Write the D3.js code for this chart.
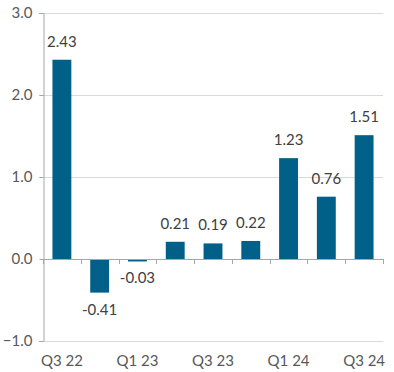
<!DOCTYPE html>
<html>
<head>
<meta charset="utf-8">
<script src="https://cdn.jsdelivr.net/npm/d3@7"></script>
<style>
  body { margin: 0; background: #fff; }
  svg text { font-family: Lato, "Open Sans", sans-serif; }
</style>
</head>
<body>
<script>
var quarters = ['Q3 22', 'Q4 22', 'Q1 23', 'Q2 23', 'Q3 23', 'Q4 23', 'Q1 24', 'Q2 24', 'Q3 24']
var values = [2.43, -0.41, -0.03, 0.21, 0.19, 0.22, 1.23, 0.76, 1.51]
var shownLabels = ['Q3 22', 'Q1 23', 'Q3 23', 'Q1 24', 'Q3 24']
var yTicks = [-1, 0, 1, 2, 3]

var width = 394, height = 372
var margin = { top: 13, right: 11, bottom: 31, left: 43 }

var svg = d3.select('body').append('svg')
    .attr('width', width)
    .attr('height', height)

var x = d3.scaleBand()
    .domain(quarters)
    .range([margin.left, width - margin.right])
    .paddingInner(0.5)
    .paddingOuter(0.25)

var y = d3.scaleLinear()
    .domain([-1, 3])
    .range([height - margin.bottom, margin.top])

// gridlines (not at zero)
svg.append('g')
    .selectAll('line')
    .data(yTicks.filter(function (d) { return d !== 0 }))
    .enter().append('line')
    .attr('x1', margin.left - 4)
    .attr('x2', width - margin.right)
    .attr('y1', function (d) { return Math.round(y(d)) + 0.5 })
    .attr('y2', function (d) { return Math.round(y(d)) + 0.5 })
    .attr('stroke', '#d9d9d9')

// y axis
var yAxis = svg.append('g')
    .attr('transform', 'translate(' + (margin.left + 0.5) + ',0)')
    .call(d3.axisLeft(y).tickValues(yTicks).tickSize(4).tickFormat(d3.format('.1f')))
yAxis.select('.domain').attr('stroke', '#a6a6a6')
yAxis.selectAll('.tick line').attr('stroke', '#a6a6a6')
yAxis.selectAll('.tick text')
    .attr('x', -11)
    .attr('fill', '#595959')
    .style('font-size', '15px')

// bars
svg.append('g')
    .selectAll('rect')
    .data(values)
    .enter().append('rect')
    .attr('x', function (d, i) { return x(quarters[i]) })
    .attr('width', x.bandwidth())
    .attr('y', function (d) { return y(Math.max(0, d)) })
    .attr('height', function (d) { return Math.abs(y(d) - y(0)) })
    .attr('fill', '#006087')

// zero axis with category ticks
var step = x.step()
var boundaries = d3.range(quarters.length + 1).map(function (i) { return margin.left + i * step })
svg.append('line')
    .attr('x1', margin.left)
    .attr('x2', width - margin.right)
    .attr('y1', Math.round(y(0)) + 0.5)
    .attr('y2', Math.round(y(0)) + 0.5)
    .attr('stroke', '#a6a6a6')
svg.append('g')
    .selectAll('line')
    .data(boundaries)
    .enter().append('line')
    .attr('x1', function (d) { return Math.round(d) + 0.5 })
    .attr('x2', function (d) { return Math.round(d) + 0.5 })
    .attr('y1', Math.round(y(0)))
    .attr('y2', Math.round(y(0)) + 5)
    .attr('stroke', '#a6a6a6')

// value labels
svg.append('g')
    .selectAll('text')
    .data(values)
    .enter().append('text')
    .attr('x', function (d, i) { return x(quarters[i]) + x.bandwidth() / 2 })
    .attr('y', function (d) { return d >= 0 ? y(d) - 13 : y(d) + 22 })
    .attr('text-anchor', 'middle')
    .attr('fill', '#404040')
    .style('font-size', '15px')
    .text(function (d) { return d.toFixed(2) })

// category labels
svg.append('g')
    .selectAll('text')
    .data(shownLabels)
    .enter().append('text')
    .attr('x', function (d) { return x(d) + x.bandwidth() / 2 })
    .attr('y', height - 6)
    .attr('text-anchor', 'middle')
    .attr('fill', '#595959')
    .style('font-size', '15px')
    .text(function (d) { return d })
</script>
</body>
</html>
